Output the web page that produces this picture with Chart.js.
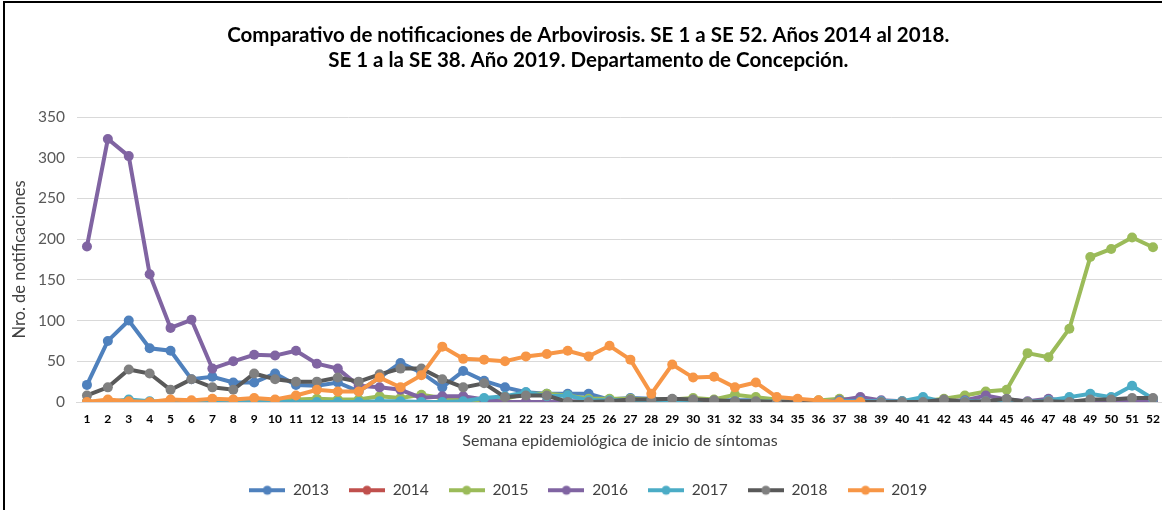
<!DOCTYPE html>
<html>
<head>
<meta charset="utf-8">
<script src="https://cdn.jsdelivr.net/npm/chart.js@4.4.1/dist/chart.umd.min.js"></script>
<style>
html,body{margin:0;padding:0;background:#fff;overflow:hidden;width:1162px;height:510px;}
#wrap{position:relative;width:1162px;height:510px;overflow:hidden;}
#c{position:absolute;left:0;top:0;}
#frame{position:absolute;left:3px;top:1px;width:1300px;height:700px;border-left:2px solid #000;border-top:2px solid #000;pointer-events:none;}
</style>
</head>
<body>
<div id="wrap"><canvas id="c" width="1170" height="510"></canvas><div id="frame"></div></div>
<script>
const weeks = ['1','2','3','4','5','6','7','8','9','10','11','12','13','14','15','16','17','18','19','20','21','22','23','24','25','26','27','28','29','30','31','32','33','34','35','36','37','38','39','40','41','42','43','44','45','46','47','48','49','50','51','52'];

const yTicks = [0, 50, 100, 150, 200, 250, 300, 350];

const seriesNames = ['2013','2014','2015','2016','2017','2018','2019'];

const s2013 = [21,75,100,66,63,28,31,24,24,35,21,20,24,13,30,48,36,18,38,26,18,12,10,10,10,3,5,4,3,3,2,2,2,1,1,1,1,1,0,0,0,0,0,0,0,0,0,0,1,1,1,1];
const s2014 = [0,0,0,0,0,0,0,0,0,0,0,0,0,0,0,0,0,0,0,0,0,0,0,0,0,0,0,0,0,0,0,0,0,0,0,0,0,0,0,0,0,0,0,0,0,0,0,0,0,0,0,0];
const s2015 = [0,1,0,0,1,1,1,2,2,2,3,4,3,3,7,5,9,5,5,0,4,10,10,8,4,4,4,3,3,5,3,9,6,3,2,2,4,2,1,1,1,4,8,13,15,60,55,90,178,188,202,190];
const s2016 = [191,323,302,157,91,101,41,50,58,57,63,47,41,20,18,15,5,7,7,3,0,0,0,1,1,0,0,1,0,0,0,0,0,0,0,0,2,6,2,1,1,1,2,8,3,1,4,1,0,1,1,2];
const s2017 = [0,0,3,1,0,0,0,0,0,1,0,0,0,0,1,1,0,0,1,5,7,12,7,8,2,2,2,0,1,1,1,1,0,1,1,1,1,1,1,1,6,0,1,1,1,0,2,6,10,6,20,4];
const s2018 = [8,18,40,35,15,28,18,15,35,28,25,25,30,25,34,41,41,28,18,23,6,8,8,0,0,1,3,3,4,3,2,1,1,0,0,0,0,0,0,0,0,3,0,1,4,0,1,0,3,3,5,5];
const s2019 = [0,3,1,0,3,2,4,3,5,3,8,15,13,13,30,18,33,68,53,52,50,56,59,63,56,69,52,10,46,30,31,18,24,6,4,2,0,0];

const seriesData = [s2013, s2014, s2015, s2016, s2017, s2018, s2019];
const lineColors = ['#4F81BD','#C0504D','#9BBB59','#8064A2','#4BACC6','#595959','#F79646'];
const markerColors = ['#4F81BD','#C0504D','#9BBB59','#8064A2','#4BACC6','#808080','#F79646'];

const FONT = "Lato, 'Open Sans', sans-serif";

function legendSymbol(i) {
  const cv = document.createElement('canvas');
  cv.width = 36; cv.height = 12;
  const g = cv.getContext('2d');
  g.strokeStyle = lineColors[i];
  g.lineWidth = 4;
  g.beginPath(); g.moveTo(0, 6); g.lineTo(36, 6); g.stroke();
  g.fillStyle = markerColors[i];
  g.beginPath(); g.arc(18, 6, 4.5, 0, Math.PI * 2); g.fill();
  return cv;
}
const legendSymbols = seriesNames.map((n, i) => legendSymbol(i));

const datasets = seriesNames.map((name, i) => ({
  label: name,
  data: seriesData[i],
  borderColor: lineColors[i],
  backgroundColor: markerColors[i],
  pointBackgroundColor: markerColors[i],
  pointBorderColor: markerColors[i],
  pointBorderWidth: 0,
  pointRadius: 5,
  borderWidth: 4,
  tension: 0,
  fill: false,
  order: seriesNames.length - 1 - i
}));

new Chart(document.getElementById('c'), {
  type: 'line',
  data: { labels: weeks, datasets: datasets },
  options: {
    responsive: false,
    animation: false,
    events: [],
    layout: { padding: { left: 10, right: 3.5, top: 0, bottom: 2 } },
    plugins: {
      title: {
        display: true,
        text: ['Comparativo de notificaciones de Arbovirosis. SE 1 a SE 52. Años 2014 al 2018.',
               'SE 1 a la SE 38. Año 2019. Departamento de Concepción.'],
        color: '#000',
        font: { family: FONT, size: 20.5, weight: 'bold', lineHeight: 1.22 },
        padding: { top: 22.5, bottom: 44.5 }
      },
      legend: {
        display: true,
        position: 'bottom',
        labels: {
          usePointStyle: true,
          pointStyleWidth: 36,
          padding: 20,
          color: '#404040',
          font: { family: FONT, size: 15.5 },
          sort: (a, b) => a.datasetIndex - b.datasetIndex,
          generateLabels: (chart) => {
            const items = Chart.defaults.plugins.legend.labels.generateLabels(chart);
            items.forEach(it => { it.pointStyle = legendSymbols[it.datasetIndex]; });
            return items;
          }
        }
      },
      tooltip: { enabled: false }
    },
    scales: {
      x: {
        offset: true,
        grid: { display: false, drawTicks: false },
        border: { display: true, color: '#d9d9d9', width: 1 },
        ticks: {
          color: '#000',
          font: { family: FONT, size: 12, weight: 'bold' },
          padding: 10,
          maxRotation: 0,
          autoSkip: false
        },
        title: {
          display: true,
          text: 'Semana epidemiológica de inicio de síntomas',
          color: '#404040',
          font: { family: FONT, size: 16 },
          padding: { top: 0, bottom: 12 }
        },
        afterFit: (scale) => { scale.height = 60.5; }
      },
      y: {
        min: yTicks[0],
        max: yTicks[yTicks.length - 1],
        afterBuildTicks: (scale) => { scale.ticks = yTicks.map(v => ({ value: v })); },
        grid: { color: '#d9d9d9', lineWidth: 1, drawTicks: false },
        border: { display: false },
        ticks: {
          color: '#595959',
          font: { family: FONT, size: 15.5 },
          padding: 11.5
        },
        title: {
          display: true,
          text: 'Nro. de notificaciones',
          color: '#404040',
          font: { family: FONT, size: 16.5 },
          padding: { top: 0, bottom: 0 }
        },
        afterFit: (scale) => { scale.width = 66.5; }
      }
    }
  }
});
</script>
</body>
</html>
